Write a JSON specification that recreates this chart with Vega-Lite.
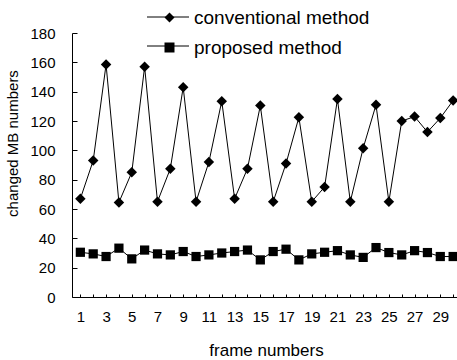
{
  "$schema": "https://vega.github.io/schema/vega-lite/v6.json",
  "width": 385,
  "height": 264,
  "autosize": {"type": "none"},
  "padding": {"left": 72, "top": 33, "right": 0, "bottom": 63},
  "background": "white",
  "config": {
    "view": {"stroke": null},
    "font": "Liberation Sans",
    "axis": {"grid": false, "domainColor": "black", "tickColor": "black", "labelColor": "black", "titleColor": "black", "titleFontWeight": "normal", "labelFont": "Liberation Sans", "titleFont": "Liberation Sans"}
  },
  "data": {
    "values": [
      {"frame": 1, "method": "conventional method", "mb": 67},
      {"frame": 2, "method": "conventional method", "mb": 93},
      {"frame": 3, "method": "conventional method", "mb": 158.5},
      {"frame": 4, "method": "conventional method", "mb": 64.5},
      {"frame": 5, "method": "conventional method", "mb": 85},
      {"frame": 6, "method": "conventional method", "mb": 157},
      {"frame": 7, "method": "conventional method", "mb": 65},
      {"frame": 8, "method": "conventional method", "mb": 87.5},
      {"frame": 9, "method": "conventional method", "mb": 143},
      {"frame": 10, "method": "conventional method", "mb": 65},
      {"frame": 11, "method": "conventional method", "mb": 92},
      {"frame": 12, "method": "conventional method", "mb": 133.5},
      {"frame": 13, "method": "conventional method", "mb": 67},
      {"frame": 14, "method": "conventional method", "mb": 87.5},
      {"frame": 15, "method": "conventional method", "mb": 130.5},
      {"frame": 16, "method": "conventional method", "mb": 65},
      {"frame": 17, "method": "conventional method", "mb": 91},
      {"frame": 18, "method": "conventional method", "mb": 122.5},
      {"frame": 19, "method": "conventional method", "mb": 65},
      {"frame": 20, "method": "conventional method", "mb": 75},
      {"frame": 21, "method": "conventional method", "mb": 135},
      {"frame": 22, "method": "conventional method", "mb": 65},
      {"frame": 23, "method": "conventional method", "mb": 101.5},
      {"frame": 24, "method": "conventional method", "mb": 131},
      {"frame": 25, "method": "conventional method", "mb": 65},
      {"frame": 26, "method": "conventional method", "mb": 120},
      {"frame": 27, "method": "conventional method", "mb": 123},
      {"frame": 28, "method": "conventional method", "mb": 112.5},
      {"frame": 29, "method": "conventional method", "mb": 122},
      {"frame": 30, "method": "conventional method", "mb": 134},
      {"frame": 1, "method": "proposed method", "mb": 30.5},
      {"frame": 2, "method": "proposed method", "mb": 29.4},
      {"frame": 3, "method": "proposed method", "mb": 27.6},
      {"frame": 4, "method": "proposed method", "mb": 33.3},
      {"frame": 5, "method": "proposed method", "mb": 26},
      {"frame": 6, "method": "proposed method", "mb": 32},
      {"frame": 7, "method": "proposed method", "mb": 29.4},
      {"frame": 8, "method": "proposed method", "mb": 28.7},
      {"frame": 9, "method": "proposed method", "mb": 31},
      {"frame": 10, "method": "proposed method", "mb": 27.6},
      {"frame": 11, "method": "proposed method", "mb": 28.7},
      {"frame": 12, "method": "proposed method", "mb": 30},
      {"frame": 13, "method": "proposed method", "mb": 31},
      {"frame": 14, "method": "proposed method", "mb": 32},
      {"frame": 15, "method": "proposed method", "mb": 25.3},
      {"frame": 16, "method": "proposed method", "mb": 31},
      {"frame": 17, "method": "proposed method", "mb": 32.6},
      {"frame": 18, "method": "proposed method", "mb": 25.3},
      {"frame": 19, "method": "proposed method", "mb": 29.4},
      {"frame": 20, "method": "proposed method", "mb": 30.5},
      {"frame": 21, "method": "proposed method", "mb": 31.6},
      {"frame": 22, "method": "proposed method", "mb": 28.7},
      {"frame": 23, "method": "proposed method", "mb": 27},
      {"frame": 24, "method": "proposed method", "mb": 33.7},
      {"frame": 25, "method": "proposed method", "mb": 30.3},
      {"frame": 26, "method": "proposed method", "mb": 28.7},
      {"frame": 27, "method": "proposed method", "mb": 31.6},
      {"frame": 28, "method": "proposed method", "mb": 30.3},
      {"frame": 29, "method": "proposed method", "mb": 27.6},
      {"frame": 30, "method": "proposed method", "mb": 27.6}
    ]
  },
  "encoding": {
    "x": {
      "field": "frame", "type": "quantitative",
      "scale": {"domain": [0.35, 30.3], "nice": false, "zero": false},
      "axis": {
        "title": "frame numbers",
        "values": [1,2,3,4,5,6,7,8,9,10,11,12,13,14,15,16,17,18,19,20,21,22,23,24,25,26,27,28,29,30],
        "labelExpr": "datum.value % 2 == 1 ? datum.label : ''",
        "tickSize": -3,
        "labelPadding": 15,
        "labelFontSize": 15,
        "titleFontSize": 17,
        "titleX": 194,
        "titleY": 53,
        "titleBaseline": "middle",
        "labelFlush": false,
        "labelOverlap": false
      }
    },
    "y": {
      "field": "mb", "type": "quantitative",
      "scale": {"domain": [0, 180], "nice": false},
      "axis": {
        "title": "changed MB numbers",
        "values": [0,20,40,60,80,100,120,140,160,180],
        "tickSize": -5,
        "labelPadding": 22,
        "labelFontSize": 15,
        "titleFontSize": 15,
        "titleX": -60,
        "titleY": 110,
        "titleAngle": -90,
        "titleAlign": "center",
        "titleBaseline": "middle",
        "labelFlush": false
      }
    }
  },
  "layer": [
    {
      "mark": {"type": "line", "strokeWidth": 1},
      "encoding": {
        "color": {
          "field": "method", "type": "nominal",
          "scale": {"range": ["black", "black"]},
          "legend": {
            "title": null,
            "orient": "none",
            "legendX": 85,
            "legendY": -27,
            "padding": 0,
            "symbolType": "M-2,0H2",
            "symbolSize": 441,
            "symbolStrokeWidth": 1,
            "rowPadding": 16,
            "labelOffset": 0,
            "labelExpr": "''",
            "labelFontSize": 1,
            "labelColor": "transparent"
          }
        }
      }
    },
    {
      "mark": {"type": "point", "filled": true, "color": "black", "opacity": 1},
      "encoding": {
        "shape": {
          "field": "method", "type": "nominal",
          "scale": {"domain": ["conventional method", "proposed method"], "range": ["diamond", "square"]},
          "legend": {
            "title": null,
            "orient": "none",
            "legendX": 88,
            "legendY": -25,
            "padding": 0,
            "symbolSize": 100,
            "symbolFillColor": "black",
            "rowPadding": 10,
            "labelOffset": 15,
            "labelLimit": 400,
            "labelFontSize": 19,
            "labelFont": "Liberation Sans",
            "labelColor": "black"
          }
        },
        "size": {"condition": {"test": "datum.method == 'conventional method'", "value": 110}, "value": 85}
      }
    }
  ]
}
